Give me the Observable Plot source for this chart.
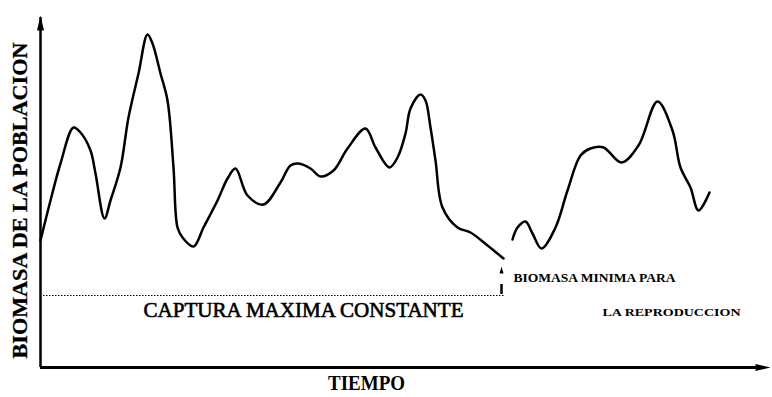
<!DOCTYPE html>
<html>
<head>
<meta charset="utf-8">
<script src="https://cdn.jsdelivr.net/npm/d3@7"></script>
<script src="https://cdn.jsdelivr.net/npm/@observablehq/plot@0.6"></script>
<style>
  html, body { margin: 0; padding: 0; background: #fff; }
  #chart { width: 772px; height: 397px; }
</style>
</head>
<body>
<div id="chart"></div>
<script>
// Time (x) and biomass (y) values, in arbitrary units
const time1 = [0,10,20,33,40,50,55,64,70,80,88,98,107,112,120,127,133,137,142,153,163,177,187,195,207,223,240,250,258,270,280,293,307,325,335,349,357,365,370,380,385,390,395,402,417,430,447,463];
const biomass1 = [127,167,204,240,235,217,194,149,167,200,250,294,333,324,294,267,200,140,130,121,140,167,189,199,172,163,185,202,204,199,191,197,219,239,220,200,210,234,259,273,267,240,207,160,140,135,122,109];
const time2 = [472,477,485,492,501,515,527,540,550,563,581,598,617,632,640,650,658,669];
const biomass2 = [128,140,146,134,119,140,177,212,219,220,205,222,266,237,200,180,157,175];

// Levels / annotations
const minBiomass = 72;          // dotted level
const minLineEnd = 465;         // end of dotted level line (time)
const arrowTime = 461;          // small vertical arrow position
const labels = {
  yLabel: "BIOMASA DE LA POBLACION",
  xLabel: "TIEMPO",
  capture: "CAPTURA MAXIMA CONSTANTE",
  minA: "BIOMASA MINIMA PARA",
  minB: "LA REPRODUCCION"
};

const series = [
  ...time1.map((t, i) => ({seg: 1, t, b: biomass1[i]})),
  ...time2.map((t, i) => ({seg: 2, t, b: biomass2[i]}))
];

const upHead = {draw(ctx) { ctx.moveTo(0, -8); ctx.lineTo(3.5, 7); ctx.lineTo(-3.5, 7); ctx.closePath(); }};
const rightHead = {draw(ctx) { ctx.moveTo(8, 0); ctx.lineTo(-7, 3.5); ctx.lineTo(-7, -3.5); ctx.closePath(); }};
const smallUp = {draw(ctx) { ctx.moveTo(0, -4); ctx.lineTo(2, 3); ctx.lineTo(-2, 3); ctx.closePath(); }};

const serif = "'Liberation Serif', 'DejaVu Serif', serif";

const plot = Plot.plot({
  width: 772,
  height: 397,
  marginLeft: 40,
  marginRight: 2,
  marginTop: 8,
  marginBottom: 30,
  x: {domain: [0, 730], axis: null},
  y: {domain: [0, 359], axis: null},
  style: {background: "#fff", fontFamily: serif},
  marks: [
    // axes
    Plot.ruleX([0], {y1: 0, y2: 350, stroke: "#000", strokeWidth: 2.5}),
    Plot.ruleY([0], {x1: 0, x2: 722, stroke: "#000", strokeWidth: 3}),
    Plot.dot([{t: 0, b: 344}], {x: "t", y: "b", symbol: upHead, fill: "#000", stroke: null}),
    Plot.dot([{t: 722, b: 0}], {x: "t", y: "b", symbol: rightHead, fill: "#000", stroke: null}),
    // dotted level
    Plot.ruleY([minBiomass], {x1: 3, x2: minLineEnd, stroke: "#000", strokeWidth: 1, strokeDasharray: "1.5,1.5"}),
    // small vertical arrow
    Plot.ruleX([arrowTime], {y1: minBiomass + 1, y2: minBiomass + 11, stroke: "#000", strokeWidth: 2.5}),
    Plot.dot([{t: arrowTime, b: minBiomass + 25}], {x: "t", y: "b", symbol: smallUp, fill: "#000", stroke: null}),
    // curve
    Plot.line(series, {x: "t", y: "b", z: "seg", curve: "catmull-rom", stroke: "#000", strokeWidth: 2.5}),
    // texts
    Plot.text([labels.capture], {x: 263, y: 57, text: d => d, fontSize: 21, textAnchor: "middle", fill: "#000", stroke: "#000", strokeWidth: 0.6}),
    Plot.text([labels.minA], {x: 473, y: 89, text: d => d, fontSize: 12, fontWeight: "bold", textAnchor: "start", fill: "#000"}),
    Plot.text([labels.minB], {x: 562, y: 55, text: d => d, fontSize: 11, fontWeight: "bold", textAnchor: "start", fill: "#000"}),
    Plot.text([labels.xLabel], {x: 326, y: -15, text: d => d, fontSize: 22, fontWeight: "bold", textAnchor: "middle", fill: "#000"}),
    Plot.text([labels.yLabel], {x: -20, y: 167, text: d => d, fontSize: 21, fontWeight: "bold", rotate: -90, textAnchor: "middle", fill: "#000", stroke: "#000", strokeWidth: 0.3})
  ]
});

// fit label widths to the reference
const widths = {};
widths[labels.capture] = 320;
widths[labels.minA] = 162;
widths[labels.minB] = 138;
widths[labels.xLabel] = 77;
widths[labels.yLabel] = 316;
d3.select(plot).selectAll("text").each(function() {
  const w = widths[this.textContent];
  if (w) d3.select(this).attr("textLength", w).attr("lengthAdjust", "spacingAndGlyphs");
});

document.getElementById("chart").appendChild(plot);
</script>
</body>
</html>
